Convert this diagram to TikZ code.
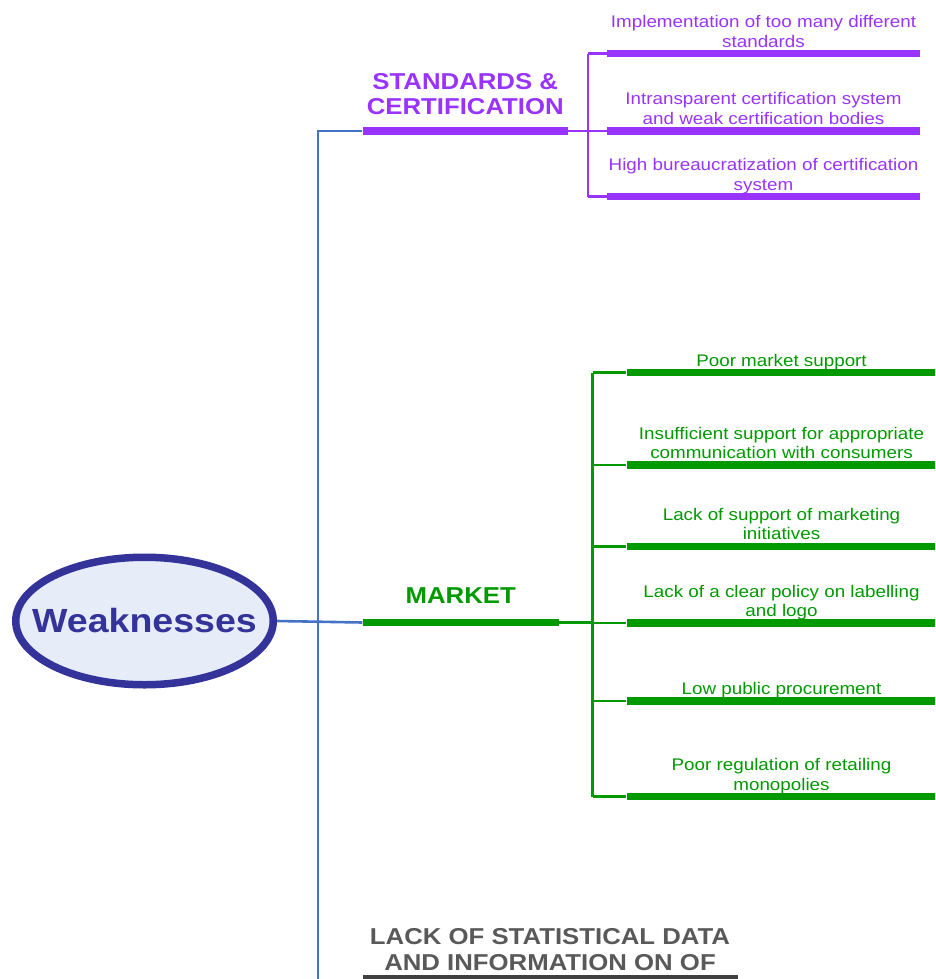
\documentclass[tikz,border=0pt]{standalone}
\usepackage{fontspec}
\setmainfont{Liberation Sans}[FakeStretch=1.12]
\usetikzlibrary{shapes.geometric,positioning}

\definecolor{rootblue}{RGB}{51,51,153}
\definecolor{rootfill}{RGB}{230,236,248}
\definecolor{spineblue}{RGB}{68,114,196}
\definecolor{stdpurple}{RGB}{153,51,255}
\definecolor{mktgreen}{RGB}{0,153,0}
\definecolor{statgrey}{RGB}{89,89,89}
\definecolor{statdark}{RGB}{64,64,64}

\tikzset{
  root/.style={ellipse, draw=rootblue, line width=7.5pt, fill=rootfill,
    minimum width=257.5pt, minimum height=127.5pt, inner sep=0pt},
  roottext/.style={text=rootblue, font=\fontsize{33.5}{36}\selectfont\bfseries, inner sep=0pt},
  bar/.style={fill=#1, draw=none, inner sep=0pt, minimum height=7.5pt},
  head/.style={text=#1, font=\fontsize{23}{25.5}\selectfont\bfseries, align=center,
    inner sep=0pt, execute at end node=\strut},
  leaf/.style={text=#1, font=\fontsize{16.8}{19.5}\selectfont, align=center,
    inner sep=0pt, execute at end node=\strut},
  spine/.style={draw=spineblue, line width=2.6pt},
  twig/.style={draw=#1, line width=2.5pt}
}

\begin{document}
\begin{tikzpicture}[x=1pt,y=-1pt]
\useasboundingbox (0,0) rectangle (935,979);
\clip (0,0) rectangle (935,979);

% central topic
\node[root] (weak) at (144.5,621) {};
\node[roottext] (weak-text) at (weak.center) {Weaknesses};

% main branches
\node[bar=stdpurple, minimum width=205.5pt] (std) at (465.25,131) {};
\node[head=stdpurple, above=4.6pt of std] (std-text) {STANDARDS \&\\CERTIFICATION};

\node[bar=mktgreen, minimum width=196.5pt] (mkt) at (460.75,622.5) {};
\node[head=mktgreen, above=6.8pt of mkt] (mkt-text) {MARKET};

\node[bar=statdark, minimum width=375pt] (stat) at (550,978.5) {};
\node[head=statgrey, above=-3.4pt of stat] (stat-text) {LACK OF STATISTICAL DATA\\AND INFORMATION ON OF};

\coordinate (spine-top) at (318,131);
\coordinate (spine-end) at (318,995);
\draw[spine] (std.west) -- (spine-top) -- (spine-end);
\draw[spine] (weak.east) -- (mkt.west);

% standards & certification
\node[bar=stdpurple, minimum width=313pt] (std-1) at (763.5,53.7) {};
\node[leaf=stdpurple, above=-3.5pt of std-1] (std-1-text) {Implementation of too many different\\standards};
\node[bar=stdpurple, minimum width=313pt] (std-2) at (763.5,130.8) {};
\node[leaf=stdpurple, above=-3.5pt of std-2] (std-2-text) {Intransparent certification system\\and weak certification bodies};
\node[bar=stdpurple, minimum width=313pt] (std-3) at (763.5,196.7) {};
\node[leaf=stdpurple, above=-3.5pt of std-3] (std-3-text) {High bureaucratization of certification\\system};

\coordinate (std-hub) at (588,131);
\draw[twig=stdpurple] (std.east) -- (std-hub);
\draw[twig=stdpurple] (std-hub |- std-1.west) -- (std-hub |- std-3.west);
\foreach \i in {1,2,3}
  \draw[twig=stdpurple] (std-hub |- std-\i.west) -- (std-\i.west);

% market
\node[bar=mktgreen, minimum width=310pt] (mkt-1) at (781.5,372.7) {};
\node[leaf=mktgreen, above=-3.5pt of mkt-1] (mkt-1-text) {Poor market support};
\node[bar=mktgreen, minimum width=310pt] (mkt-2) at (781.5,465) {};
\node[leaf=mktgreen, above=-3.5pt of mkt-2] (mkt-2-text) {Insufficient support for appropriate\\communication with consumers};
\node[bar=mktgreen, minimum width=310pt] (mkt-3) at (781.5,546.3) {};
\node[leaf=mktgreen, above=-3.5pt of mkt-3] (mkt-3-text) {Lack of support of marketing\\initiatives};
\node[bar=mktgreen, minimum width=310pt] (mkt-4) at (781.5,623) {};
\node[leaf=mktgreen, above=-3.5pt of mkt-4] (mkt-4-text) {Lack of a clear policy on labelling\\and logo};
\node[bar=mktgreen, minimum width=310pt] (mkt-5) at (781.5,700.8) {};
\node[leaf=mktgreen, above=-3.5pt of mkt-5] (mkt-5-text) {Low public procurement};
\node[bar=mktgreen, minimum width=310pt] (mkt-6) at (781.5,796.7) {};
\node[leaf=mktgreen, above=-3.5pt of mkt-6] (mkt-6-text) {Poor regulation of retailing\\monopolies};

\coordinate (mkt-hub) at (592.5,622.5);
\draw[twig=mktgreen] (mkt.east) -- (mkt-hub);
\draw[twig=mktgreen] (mkt-hub |- mkt-1.west) -- (mkt-hub |- mkt-6.west);
\foreach \i in {1,...,6}
  \draw[twig=mktgreen] (mkt-hub |- mkt-\i.west) -- (mkt-\i.west);

\end{tikzpicture}
\end{document}
